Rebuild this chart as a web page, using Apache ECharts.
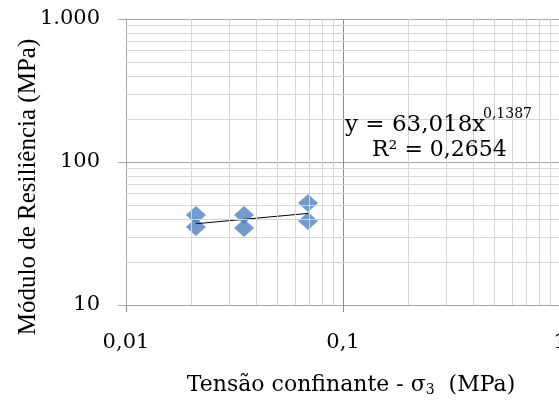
<!DOCTYPE html>
<html>
<head>
<meta charset="utf-8">
<script src="https://cdn.jsdelivr.net/npm/echarts@6/dist/echarts.min.js"></script>
<style>
html,body{margin:0;padding:0;background:#fff;}
#chart{width:559px;height:403px;}
</style>
</head>
<body>
<div id="chart"></div>
<script>
// ---- data ----
const sigma3 = [0.021, 0.021, 0.035, 0.035, 0.069, 0.069];
const modulus = [42.6, 35.1, 42.6, 34.6, 51.7, 38.7];
const trendX = [0.021, 0.069];
const trendY = [37.0, 43.7];
const xTickValues = [0.01, 0.1, 1];
const xTickLabels = ['0,01', '0,1', '1'];
const yTickValues = [10, 100, 1000];
const yTickLabels = ['10', '100', '1.000'];
const xMinorLines = [0.02,0.03,0.04,0.05,0.06,0.07,0.08,0.09,0.2,0.3,0.4,0.5,0.6,0.7,0.8,0.9];
const yMinorLines = [20,30,40,50,60,70,80,90,200,300,400,500,600,700,800,900];
const eqMain = 'y = 63,018x';
const eqExp = '0,1387';
const eqR2 = 'R² = 0,2654';
const xTitle = 'Tensão confinante - σ';
const xTitleSub = '3';
const xTitleEnd = '  (MPa)';
const yTitle = 'Módulo de Resiliência (MPa)';

const serif = 'DejaVu Serif';
function labelFor(values, labels) {
  return function (v) {
    const lv = Math.log10(v);
    for (let i = 0; i < values.length; i++) {
      if (Math.abs(Math.log10(values[i]) - lv) < 1e-6) return labels[i];
    }
    return '';
  };
}

const chart = echarts.init(document.getElementById('chart'), null, {renderer: 'canvas'});
const minorStyle = {color: '#d4d4d4', width: 1, type: 'solid'};
chart.setOption({
  animation: false,
  backgroundColor: '#ffffff',
  grid: {left: 126, top: 19, width: 434, height: 286, containLabel: false, outerBoundsMode: 'none'},
  xAxis: {
    type: 'log', logBase: 10, min: 0.01, max: 1,
    axisLine: {show: true, lineStyle: {color: '#a6a6a6', width: 1}},
    axisTick: {show: true, inside: false, length: 7, lineStyle: {color: '#8c8c8c'}},
    axisLabel: {show: true, margin: 27, color: '#000', fontFamily: serif, fontSize: 21,
      showMinLabel: true, showMaxLabel: true, formatter: labelFor(xTickValues, xTickLabels)},
    splitLine: {show: true, lineStyle: {color: '#8c8c8c', width: 1}},
    name: xTitle + '{sub|' + xTitleSub + '}' + xTitleEnd,
    nameLocation: 'middle', nameGap: 68,
    nameTextStyle: {color: '#000', fontFamily: serif, fontSize: 22, padding: [0, 0, 0, 16],
      rich: {sub: {fontFamily: serif, fontSize: 14, color: '#000', padding: [10, 0, 0, 0]}}}
  },
  yAxis: {
    type: 'log', logBase: 10, min: 10, max: 1000,
    axisLine: {show: true, lineStyle: {color: '#a6a6a6', width: 1}},
    axisTick: {show: true, inside: false, length: 8, lineStyle: {color: '#a6a6a6'}},
    axisLabel: {show: true, margin: 26, color: '#000', fontFamily: serif, fontSize: 21,
      showMinLabel: true, showMaxLabel: true, formatter: labelFor(yTickValues, yTickLabels)},
    splitLine: {show: true, lineStyle: {color: '#a6a6a6', width: 1}}
  },
  graphic: [
    {type: 'text', x: 28, y: 187, rotation: Math.PI / 2, z: 10,
      style: {text: yTitle, font: '25px "Liberation Serif"', fill: '#000', textAlign: 'center', textVerticalAlign: 'middle'}},
    {type: 'text', x: 345, y: 125, z: 10,
      style: {text: eqMain, font: '23px "DejaVu Serif"', fill: '#000', textAlign: 'left', textVerticalAlign: 'middle'}},
    {type: 'text', x: 483, y: 114, z: 10,
      style: {text: eqExp, font: '14px "DejaVu Serif"', fill: '#000', textAlign: 'left', textVerticalAlign: 'middle'}},
    {type: 'text', x: 372, y: 150, z: 10,
      style: {text: eqR2, font: '22px "DejaVu Serif"', fill: '#000', textAlign: 'left', textVerticalAlign: 'middle'}}
  ],
  series: [
    {
      type: 'scatter', name: 'minorGrid', data: [], z: 1, silent: true,
      markLine: {
        silent: true, symbol: ['none', 'none'], animation: false,
        label: {show: false},
        lineStyle: minorStyle,
        emphasis: {disabled: true},
        data: xMinorLines.map(v => ({xAxis: v})).concat(yMinorLines.map(v => ({yAxis: v})))
      }
    },
    {
      type: 'scatter', name: 'Mr',
      data: sigma3.map((x, i) => [x, modulus[i]]),
      symbol: 'diamond', symbolSize: [20, 18], z: 3,
      itemStyle: {color: '#4f81bd'}
    },
    {
      type: 'line', name: 'trend',
      data: trendX.map((x, i) => [x, trendY[i]]),
      showSymbol: false, symbol: 'none', z: 4,
      lineStyle: {color: '#000', width: 1}
    }
  ]
});
</script>
</body>
</html>
